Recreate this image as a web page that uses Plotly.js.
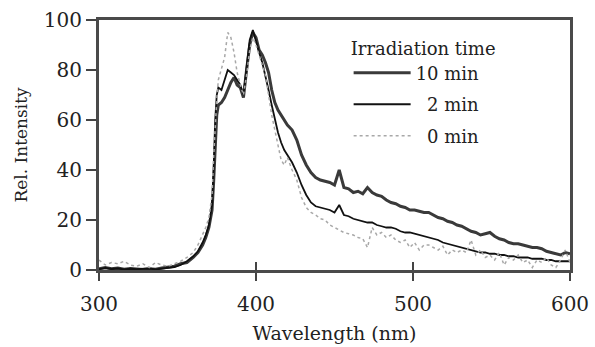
<!DOCTYPE html>
<html>
<head>
<meta charset="utf-8">
<script src="https://cdn.plot.ly/plotly-3.0.1.min.js"></script>
<style>html,body{margin:0;padding:0;background:#fff;}#chart{width:595px;height:347px;}</style>
</head>
<body>
<div id="chart"></div>
<script>
// Wavelength (nm), shared by all series
var wavelength = [
  300,304,308,312,316,320,324,328,332,336,340,344,348,352,
  356,360,363,366,368,370,372,373,374,375,376,378,380,382,384,386,388,390,392,394,396,398,400,402,404,406,408,410,412,414,416,418,420,
  423,426,429,432,435,438,441,444,447,450,453,456,459,462,465,468,471,474,477,480,483,486,489,492,495,498,501,504,507,510,
  513,516,519,522,525,528,531,534,537,540,543,546,549,552,555,558,561,564,567,570,573,576,579,582,585,588,591,594,597,600
];
var seriesNames = ["10 min", "\u20072 min", "\u20070 min"];
var int10 = [
  0.5,1,0.5,0.8,0.3,0.6,0.4,0.2,0.5,0.3,0.8,1,1.5,2.5,
  3,5,7,10,13,17,24,35,52,62,66,67,69,72,75,77,74,73,69,80,90,95,93,88,86,83,79,72,67,64,62,60,58,
  56,52,46,42,39,37,36,35.5,35,34,40,33,32.5,31,31.5,30.5,33,31,30,29.5,28,27,26.5,25.5,25,24,24,23.5,23,23,
  22,21,20.5,19.5,19,18,17.5,16.5,15.5,15,14,14.5,15,13.5,12.5,12,11,10.5,10.5,10,9.5,9,9,8.5,7.5,7,6.5,6,7,6.5
];
var int2 = [
  0.3,0.8,0.4,0.6,0.2,0.5,0.3,0.4,0.6,0.2,0.5,0.8,1.2,2,
  3.5,5.5,7.5,11,14,18,26,40,60,70,73,72,76,80,79,78,76,74,70,82,92,96,91,87,83,78,72,66,60,55,51,48,46,
  43,39,34,30,27,25.5,25,24.5,24,23,26,22,21.5,20.5,20,19.5,19,19,18,17.5,17,17,16.5,15.5,15,15,14.5,14,13.5,13,
  12.5,12,11,10.5,10,9.5,9,8.5,8,7.5,7,7,6.5,6.5,6,6,5.5,5.5,5,5,5,4.5,4.5,4.5,4,4,3.5,3.5,3.5,3.5
];
var int0 = [
  4,2,3,2.5,3.5,2,1.5,2.5,1,3,2,1.5,2.5,3.5,
  5,7,10,14,17,21,30,45,60,68,76,80,85,95,93,87,79,74,70,78,88,93,90,86,82,78,70,62,56,50,44,42,45,
  40,36,29,25,23,22,20.5,20,18,17,16,15,14.5,14,13,12.5,9,17,14,15,13,14,12,11,12,9,11,8,10,10,
  9,8,9.5,6,8,7,8,7,12,6,8,5,6,4,7,2,5,4,6,3,4,1,4,3,5,2,1,4,8,3
];
var xTicks = [300, 400, 500, 600];
var yTicks = [0, 20, 40, 60, 80, 100];

var FONT = "DejaVu Serif, Liberation Serif, serif";
var traces = [
  {x: wavelength, y: int10, name: seriesNames[0], legendgroup: "a", type: "scatter", mode: "lines",
   line: {color: "#3a3a3a", width: 3}},
  {x: wavelength, y: int2, name: seriesNames[1], legendgroup: "b", type: "scatter", mode: "lines",
   line: {color: "#111111", width: 1.8}},
  {x: wavelength, y: int0, name: seriesNames[2], legendgroup: "c", type: "scatter", mode: "lines",
   line: {color: "#a8a8a8", width: 1.5, dash: "dot"}},
  {x: [], y: [], xaxis: "x2", yaxis: "y", showlegend: false, hoverinfo: "skip"}
];
var layout = {
  width: 595, height: 347,
  margin: {l: 99, r: 25, t: 20, b: 77},
  paper_bgcolor: "#fff", plot_bgcolor: "#fff",
  font: {family: FONT, color: "#222", size: 18},
  showlegend: true,
  legend: {
    x: 0.53, y: 0.955, xanchor: "left", yanchor: "top",
    bgcolor: "rgba(0,0,0,0)", borderwidth: 0,
    itemwidth: 57,
    font: {family: FONT, size: 18, color: "#222"},
    title: {text: "Irradiation time", side: "top center", font: {family: FONT, size: 18, color: "#222"}},
    tracegroupgap: 5
  },
  xaxis: {
    range: [300, 600], tickvals: xTicks, ticktext: xTicks.map(String),
    ticks: "outside", ticklen: 8, tickwidth: 2, tickcolor: "#444",
    ticklabelstandoff: 6,
    showline: true, mirror: true, linewidth: 3, linecolor: "#4a4a4a",
    showgrid: false, zeroline: false,
    tickfont: {family: FONT, size: 20, color: "#222"},
    title: {text: "Wavelength (nm)", font: {family: FONT, size: 19, color: "#222"}, standoff: 12}
  },
  xaxis2: {
    overlaying: "x", anchor: "y", side: "bottom", range: [300, 600], tickvals: xTicks,
    ticks: "inside", ticklen: 8, tickwidth: 2, tickcolor: "#444",
    showticklabels: false, showline: false, showgrid: false, zeroline: false
  },
  yaxis: {
    range: [0, 100], tickvals: yTicks, ticktext: yTicks.map(String),
    ticks: "outside", ticklen: 10, tickwidth: 2, tickcolor: "#444",
    showline: true, mirror: true, linewidth: 3, linecolor: "#4a4a4a",
    showgrid: false, zeroline: false,
    tickfont: {family: FONT, size: 20, color: "#222"},
    title: {text: "Rel. Intensity", font: {family: FONT, size: 17, color: "#222"}, standoff: 12}
  }
};
Plotly.newPlot("chart", traces, layout, {staticPlot: true, displayModeBar: false});
</script>
</body>
</html>
